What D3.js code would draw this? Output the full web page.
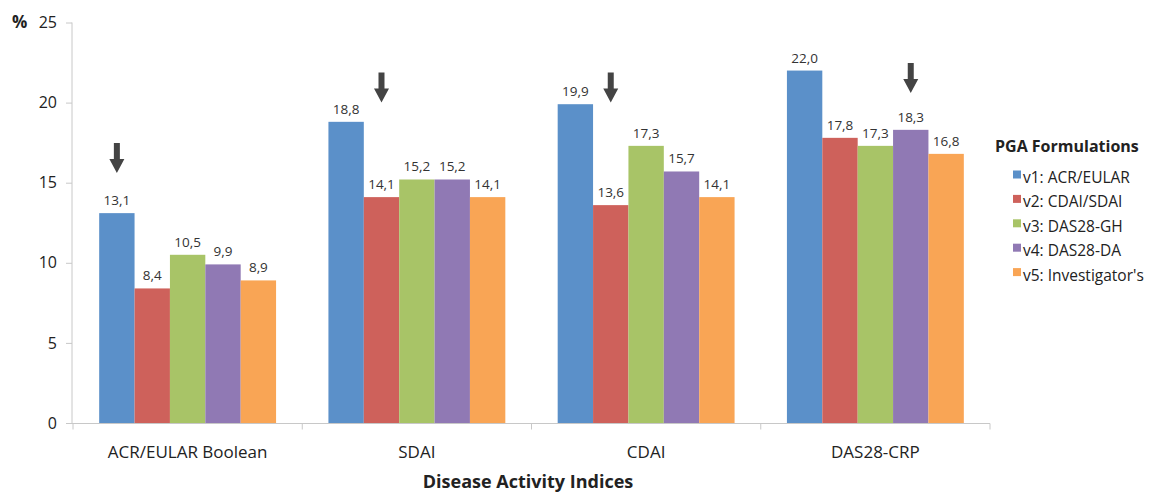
<!DOCTYPE html>
<html><head><meta charset="utf-8">
<script src="https://cdn.jsdelivr.net/npm/d3@7"></script>
<style>body{margin:0;background:#fff}svg{display:block;font-family:"Open Sans",sans-serif}</style>
</head><body><svg id="c" width="1151" height="495"></svg>
<script>
const categories = ["ACR/EULAR Boolean","SDAI","CDAI","DAS28-CRP"];
const seriesNames = ["v1: ACR/EULAR","v2: CDAI/SDAI","v3: DAS28-GH","v4: DAS28-DA","v5: Investigator's"];
const v1 = [13.1,18.8,19.9,22.0];
const v2 = [8.4,14.1,13.6,17.8];
const v3 = [10.5,15.2,17.3,17.3];
const v4 = [9.9,15.2,15.7,18.3];
const v5 = [8.9,14.1,14.1,16.8];
const yTicks = [0,5,10,15,20,25];
// arrows: category index, series index, value at arrow tip
const arrowCat = [0,1,2,3];
const arrowSeries = [0,1,1,3];
const arrowTip = [15.6,20.0,20.0,20.6];
const colors = ["#5b90c9","#ce615b","#a8c467","#9079b4","#f9a555"];
const seriesVals = [v1,v2,v3,v4,v5];

const svg = d3.select("#c");
const x0 = d3.scaleBand().domain(categories).range([73,990]).paddingInner(0).paddingOuter(0);
const x1 = d3.scaleBand().domain(d3.range(5)).range([0,x0.bandwidth()]).paddingOuter(0.74).paddingInner(0);
const y = d3.scaleLinear().domain([0,25]).range([423,22.5]);

// y axis
const ya = svg.append("g").attr("transform","translate(72,0)")
  .call(d3.axisLeft(y).tickValues(yTicks).tickSize(6).tickPadding(9));
ya.select(".domain").attr("stroke","#c8c8c8").attr("d","M0,"+y(25)+"V"+y(0));
ya.selectAll(".tick line").attr("stroke","#c8c8c8");
ya.selectAll("text").attr("font-size",16).attr("fill","#222").attr("font-family","Open Sans");

// x axis
const xa = svg.append("g").attr("transform","translate(0,423.5)");
xa.append("line").attr("x1",72).attr("x2",990).attr("stroke","#c8c8c8");
const bounds = categories.map(c=>x0(c)).concat([x0.range()[1]]);
xa.selectAll("line.t").data(bounds).enter().append("line")
  .attr("x1",d=>d).attr("x2",d=>d).attr("y1",0).attr("y2",6).attr("stroke","#c8c8c8");
xa.selectAll("text").data(categories).enter().append("text")
  .attr("x",d=>x0(d)+x0.bandwidth()/2).attr("y",34).attr("text-anchor","middle")
  .attr("font-size",17).attr("fill","#222").text(d=>d);

// bars
const groups = svg.append("g").selectAll("g").data(categories).enter().append("g")
  .attr("transform",d=>`translate(${x0(d)},0)`);
groups.each(function(c,ci){
  const g = d3.select(this);
  seriesVals.forEach((vals,si)=>{
    g.append("rect").attr("x",x1(si)).attr("width",x1.bandwidth())
      .attr("y",y(vals[ci])).attr("height",y(0)-y(vals[ci])).attr("fill",colors[si]);
    g.append("text").attr("x",x1(si)+x1.bandwidth()/2).attr("y",y(vals[ci])-8)
      .attr("text-anchor","middle").attr("font-size",13.5).attr("fill","#333")
      .text(vals[ci].toFixed(1).replace(".",","));
  });
});

// arrows
arrowCat.forEach((ci,i)=>{
  const cx = x0(categories[ci]) + x1(arrowSeries[i]) + x1.bandwidth()/2;
  const ty = y(arrowTip[i]);
  const p = `M${cx-3},${ty-30} L${cx+3},${ty-30} L${cx+3},${ty-14} L${cx+7.5},${ty-14} L${cx},${ty} L${cx-7.5},${ty-14} L${cx-3},${ty-14} Z`;
  svg.append("path").attr("d",p).attr("fill","#444");
});

// labels
svg.append("text").attr("x",12).attr("y",28).attr("font-size",17).attr("font-weight","bold").attr("fill","#222").text("%");
svg.append("text").attr("x",528).attr("y",488).attr("text-anchor","middle").attr("font-size",18)
  .attr("font-weight","bold").attr("fill","#222").text("Disease Activity Indices");

// legend
const lg = svg.append("g");
lg.append("text").attr("x",995).attr("y",152).attr("font-size",16).attr("font-weight","bold").attr("fill","#222").text("PGA Formulations");
seriesNames.forEach((n,i)=>{
  const base = 183 + i*24.4;
  lg.append("rect").attr("x",1013).attr("y",base-12.5).attr("width",8).attr("height",8).attr("fill",colors[i]);
  lg.append("text").attr("x",1023).attr("y",base).attr("font-size",15.5).attr("fill","#222").text(n);
});
</script></body></html>
